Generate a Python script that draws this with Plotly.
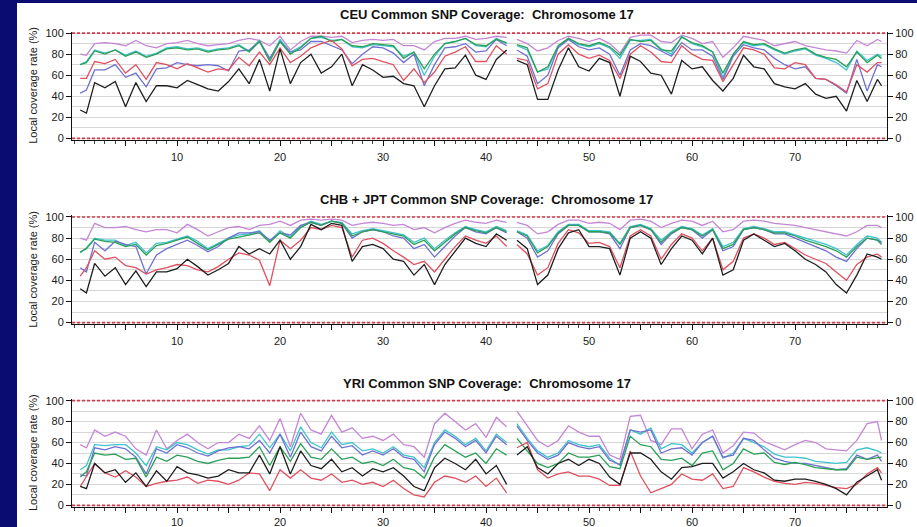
import plotly.graph_objects as go

W, H = 917, 527
ML, MR = 72, 30
PLOT_W = W - ML - MR

# ---------------- data ----------------
# x positions (Mb along chromosome 17); None entry at 42.5 = gap (centromere)
X = [0.6, 1.2] + list(range(2, 43)) + [42.5] + list(range(43, 79)) + [78.4]
N = None

CEU_BLACK = [27, 24, 53, 48, 54, 30, 53, 35, 50, 50,
             48, 55, 51, 47, 45, 54, 66, 52, 75, 45,
             85, 52, 72, 80, 62, 68, 80, 50, 70, 65,
             58, 59, 52, 50, 30, 50, 66, 67, 79, 60,
             56, 75, 84, N, 74, 70, 37, 37, 65, 86,
             68, 64, 76, 72, 40, 78, 73, 62, 60, 42,
             74, 66, 68, 55, 45, 57, 79, 68, 66, 52,
             49, 47, 52, 42, 38, 40, 26, 55, 35, 56,
             50]
CEU_RED = [57, 57, 73, 71, 75, 62, 70, 56, 72, 70,
           66, 71, 67, 63, 66, 65, 77, 69, 82, 70,
           86, 72, 78, 86, 90, 93, 85, 69, 75, 76,
           73, 70, 55, 66, 53, 63, 78, 82, 87, 73,
           73, 88, 80, N, 76, 74, 47, 52, 80, 89,
           80, 76, 79, 74, 57, 80, 88, 82, 73, 72,
           88, 80, 75, 74, 54, 70, 86, 84, 80, 67,
           66, 72, 70, 57, 56, 51, 44, 70, 63, 72,
           72]
CEU_BLUE = [43, 46, 65, 65, 70, 58, 62, 49, 66, 67,
            72, 70, 69, 70, 69, 64, 83, 84, 92, 76,
            92, 82, 84, 92, 92, 88, 84, 71, 80, 87,
            86, 81, 72, 80, 50, 70, 86, 87, 90, 82,
            83, 94, 88, N, 84, 78, 52, 60, 86, 94,
            87, 84, 86, 80, 60, 84, 90, 88, 83, 78,
            91, 84, 84, 78, 56, 78, 89, 86, 84, 76,
            70, 66, 68, 57, 56, 50, 43, 75, 45, 70,
            68]
CEU_GREEN = [70, 72, 83, 80, 84, 78, 82, 77, 80, 85,
             86, 84, 85, 82, 84, 85, 88, 82, 92, 73,
             92, 80, 86, 95, 97, 92, 94, 88, 87, 90,
             89, 88, 76, 82, 66, 80, 90, 92, 95, 89,
             88, 94, 91, N, 89, 86, 63, 68, 88, 95,
             90, 88, 91, 87, 79, 94, 92, 93, 84, 83,
             96, 91, 88, 82, 62, 80, 92, 89, 90, 85,
             81, 84, 86, 80, 77, 75, 68, 82, 72, 79,
             76]
CEU_CYAN = [70, 73, 84, 81, 84, 79, 83, 78, 81, 86,
            87, 85, 86, 83, 85, 86, 89, 83, 93, 75,
            94, 82, 87, 95, 96, 93, 94, 87, 86, 89,
            88, 87, 78, 82, 60, 78, 90, 92, 95, 88,
            87, 95, 90, N, 88, 84, 63, 66, 87, 95,
            89, 87, 90, 86, 76, 93, 93, 94, 85, 80,
            97, 90, 87, 82, 58, 80, 91, 88, 89, 84,
            80, 83, 85, 79, 76, 72, 65, 83, 74, 80,
            78]
CEU_VIOLET = [80, 79, 90, 91, 90, 88, 93, 88, 86, 90,
              91, 93, 90, 88, 89, 90, 93, 95, 93, 88,
              97, 84, 92, 97, 97, 96, 97, 91, 93, 94,
              93, 94, 88, 88, 84, 92, 95, 95, 97, 94,
              95, 97, 96, N, 94, 90, 83, 86, 93, 97,
              95, 92, 95, 90, 81, 96, 98, 98, 92, 91,
              98, 95, 90, 92, 77, 86, 97, 95, 93, 88,
              90, 92, 88, 86, 84, 83, 81, 93, 88, 94,
              92]

CHB_BLACK = [32, 28, 56, 44, 52, 36, 49, 34, 48, 48,
             51, 60, 53, 45, 50, 56, 72, 65, 70, 65,
             78, 60, 72, 93, 88, 94, 92, 58, 72, 74,
             70, 60, 58, 45, 55, 36, 55, 68, 80, 75,
             72, 84, 78, N, 78, 70, 36, 45, 70, 85,
             88, 72, 72, 70, 45, 80, 86, 80, 55, 70,
             82, 78, 65, 80, 45, 50, 78, 84, 78, 72,
             75, 68, 60, 55, 48, 36, 28, 45, 65, 62,
             60]
CHB_RED = [44, 52, 68, 60, 62, 54, 52, 46, 50, 52,
           55, 54, 50, 48, 53, 60, 66, 64, 59, 35,
           78, 70, 78, 90, 88, 92, 90, 62, 78, 80,
           75, 68, 62, 55, 58, 48, 60, 72, 82, 78,
           75, 82, 72, N, 74, 65, 45, 52, 75, 88,
           85, 75, 76, 72, 52, 82, 88, 82, 60, 74,
           84, 80, 68, 80, 50, 58, 80, 84, 80, 74,
           76, 70, 64, 60, 56, 48, 40, 55, 62, 65,
           62]
CHB_BLUE = [52, 48, 76, 68, 77, 74, 72, 46, 64, 70,
            74, 78, 73, 67, 72, 80, 85, 85, 86, 78,
            85, 83, 92, 95, 92, 96, 94, 80, 86, 88,
            86, 82, 80, 70, 74, 62, 72, 82, 90, 86,
            84, 90, 85, N, 86, 80, 62, 68, 84, 92,
            92, 86, 86, 84, 70, 90, 92, 88, 74, 84,
            90, 88, 80, 88, 68, 72, 88, 90, 88, 84,
            84, 80, 76, 72, 68, 62, 58, 70, 80, 78,
            76]
CHB_GREEN = [67, 70, 79, 77, 76, 72, 74, 64, 73, 75,
             78, 81, 75, 69, 74, 79, 81, 83, 85, 76,
             85, 80, 90, 95, 92, 96, 94, 82, 86, 88,
             86, 84, 82, 74, 78, 68, 76, 84, 90, 87,
             85, 90, 86, N, 86, 82, 66, 72, 85, 92,
             92, 86, 86, 85, 74, 90, 92, 88, 76, 85,
             90, 88, 82, 88, 70, 74, 88, 90, 88, 85,
             85, 82, 78, 75, 72, 68, 62, 72, 80, 78,
             74]
CHB_CYAN = [66, 71, 80, 78, 78, 73, 76, 66, 75, 76,
            79, 82, 77, 70, 75, 80, 83, 84, 87, 77,
            87, 81, 91, 96, 93, 96, 95, 84, 87, 89,
            87, 85, 83, 76, 80, 70, 78, 85, 91, 88,
            86, 91, 87, N, 87, 83, 68, 73, 86, 93,
            93, 87, 87, 86, 75, 91, 93, 89, 78, 86,
            91, 89, 83, 89, 72, 76, 89, 91, 89, 86,
            86, 83, 80, 77, 74, 70, 64, 74, 82, 80,
            76]
CHB_VIOLET = [80, 78, 94, 90, 90, 91, 88, 86, 88, 88,
              85, 93, 88, 82, 86, 90, 91, 88, 92, 93,
              96, 92, 97, 98, 97, 98, 97, 92, 94, 95,
              94, 92, 93, 88, 90, 85, 90, 94, 97, 95,
              94, 97, 95, N, 95, 92, 84, 86, 93, 97,
              97, 94, 95, 94, 88, 97, 98, 96, 90, 94,
              97, 96, 92, 96, 86, 88, 96, 97, 96, 94,
              93, 92, 90, 88, 86, 84, 82, 86, 92, 92,
              90]

YRI_BLACK = [18, 16, 40, 31, 34, 22, 31, 18, 33, 23,
             37, 31, 29, 26, 28, 34, 31, 31, 48, 30,
             56, 30, 52, 38, 35, 44, 32, 36, 28, 35,
             32, 36, 28, 18, 14, 36, 45, 40, 34, 44,
             30, 38, 20, N, 48, 56, 36, 30, 40, 44,
             38, 44, 40, 27, 20, 50, 50, 44, 32, 25,
             36, 37, 40, 40, 26, 32, 40, 34, 31, 24,
             23, 25, 25, 23, 20, 16, 10, 22, 28, 34,
             24]
YRI_RED = [18, 28, 40, 31, 27, 33, 27, 18, 21, 23,
           24, 27, 21, 24, 23, 20, 24, 31, 30, 14,
           34, 26, 34, 26, 24, 30, 22, 24, 20, 22,
           18, 24, 16, 10, 8, 22, 28, 26, 22, 28,
           18, 26, 12, N, 55, 60, 34, 26, 30, 32,
           28, 28, 25, 19, 19, 52, 28, 12, 16, 20,
           30, 25, 24, 30, 16, 18, 36, 32, 27, 23,
           21, 20, 22, 21, 19, 17, 16, 20, 30, 36,
           31]
YRI_BLUE = [29, 28, 55, 53, 56, 54, 46, 30, 54, 50,
            58, 55, 50, 47, 52, 55, 56, 54, 62, 50,
            68, 46, 70, 56, 52, 66, 55, 57, 48, 52,
            48, 54, 46, 44, 32, 58, 70, 64, 56, 62,
            50, 66, 58, N, 76, 62, 50, 44, 48, 60,
            56, 54, 56, 43, 39, 72, 70, 72, 50, 54,
            55, 48, 60, 66, 46, 48, 64, 62, 53, 45,
            42, 40, 40, 38, 36, 34, 35, 48, 44, 48,
            42]
YRI_GREEN = [27, 32, 50, 48, 49, 44, 45, 27, 46, 42,
             48, 46, 42, 40, 43, 45, 45, 46, 56, 38,
             56, 42, 59, 46, 44, 54, 44, 46, 40, 42,
             38, 44, 36, 34, 26, 46, 58, 52, 46, 50,
             40, 54, 48, N, 64, 52, 40, 36, 40, 50,
             46, 46, 48, 37, 35, 66, 58, 56, 44, 43,
             45, 38, 50, 52, 34, 40, 54, 49, 50, 41,
             39, 41, 39, 36, 35, 34, 34, 46, 44, 45,
             46]
YRI_CYAN = [34, 38, 58, 57, 58, 58, 50, 38, 56, 53,
            60, 58, 53, 49, 53, 53, 56, 57, 68, 55,
            68, 52, 75, 60, 55, 70, 58, 60, 52, 54,
            50, 56, 48, 46, 36, 60, 72, 66, 58, 64,
            52, 68, 60, N, 78, 64, 52, 46, 50, 62,
            58, 56, 58, 45, 38, 72, 68, 74, 54, 59,
            58, 50, 60, 66, 45, 50, 64, 60, 56, 49,
            46, 46, 45, 42, 41, 40, 41, 53, 55, 52,
            50]
YRI_VIOLET = [58, 55, 72, 66, 70, 66, 54, 48, 72, 54,
              62, 68, 60, 54, 60, 60, 68, 64, 76, 62,
              83, 56, 88, 72, 68, 86, 70, 74, 64, 66,
              62, 68, 58, 56, 46, 78, 88, 80, 72, 78,
              65, 84, 75, N, 90, 76, 62, 56, 62, 76,
              70, 66, 66, 48, 44, 85, 86, 62, 58, 73,
              73, 54, 68, 72, 50, 57, 70, 69, 61, 57,
              53, 58, 62, 60, 54, 53, 52, 62, 78, 80,
              62]

TITLES = ["CEU Common SNP Coverage:\u00a0 Chromosome 17",
          "CHB + JPT Common SNP Coverage:\u00a0 Chromosome 17",
          "YRI Common SNP Coverage:\u00a0 Chromosome 17"]
Y_LABEL = "Local coverage rate (%)"
X_TICK_VALS = [5, 10, 15, 20, 25, 30, 35, 40, 45, 50, 55, 60, 65, 70, 75]
X_TICK_TEXT = ["", "10", "", "20", "", "30", "", "40", "", "50", "", "60", "", "70", ""]
REF_LEVELS = [0, 100]

PANELS = [
    {"violet": CEU_VIOLET, "cyan": CEU_CYAN, "blue": CEU_BLUE, "green": CEU_GREEN, "red": CEU_RED, "black": CEU_BLACK},
    {"violet": CHB_VIOLET, "cyan": CHB_CYAN, "blue": CHB_BLUE, "green": CHB_GREEN, "red": CHB_RED, "black": CHB_BLACK},
    {"violet": YRI_VIOLET, "cyan": YRI_CYAN, "blue": YRI_BLUE, "green": YRI_GREEN, "red": YRI_RED, "black": YRI_BLACK},
]

COLORS = {"violet": "#c586d6", "cyan": "#3fc3cc", "blue": "#6f70d2",
          "green": "#2a9f58", "red": "#e0505f", "black": "#1e1e1e"}
ORDER = ["violet", "cyan", "blue", "green", "red", "black"]

# ---------------- layout geometry (pixels) ----------------
XR = [-0.2, 78.93]
YR = [-1.5, 101.5]
FRAMES = [(31.5, 140.0), (215.4, 324.2), (399.1, 506.9)]
TITLE_Y = [15, 199, 383]
STANDOFF = [2, 2, 0]
NAVY = "#0b0c72"
GRID = "#d6d6d6"
AXC = "#111111"
TXT = "#1a1a1a"
FONT = "Liberation Sans, Arial, sans-serif"


def px_x(px):
    return (px - ML) / PLOT_W


def px_y(py):
    return 1 - py / H


fig = go.Figure()
layout = {}
annotations = []

for i, series in enumerate(PANELS):
    n = i + 1
    xa = "x" if n == 1 else f"x{n}"
    ya = "y" if n == 1 else f"y{n}"
    yr = f"y{n + 3}"
    for name in ORDER:
        fig.add_trace(go.Scatter(x=X, y=series[name], mode="lines",
                                 line=dict(color=COLORS[name], width=1.3),
                                 xaxis=xa, yaxis=ya, hoverinfo="skip",
                                 showlegend=False))
    for lvl in REF_LEVELS:
        fig.add_trace(go.Scatter(x=XR, y=[lvl, lvl], mode="lines",
                                 line=dict(color="#d23c4c", width=1.6, dash="3px,2px"),
                                 xaxis=xa, yaxis=yr, hoverinfo="skip",
                                 showlegend=False))
    top, bot = FRAMES[i]
    dom = [px_y(bot), px_y(top)]
    sfx = "" if n == 1 else str(n)
    layout[f"xaxis{sfx}"] = dict(
        domain=[0, 1], range=XR, anchor=ya, showline=True, linecolor=AXC, linewidth=1,
        ticks="outside", ticklen=5, tickcolor=AXC, tickmode="array",
        tickvals=X_TICK_VALS, ticktext=X_TICK_TEXT, showgrid=False, zeroline=False,
        minor=dict(tickmode="linear", tick0=0, dtick=1, ticks="outside", ticklen=3,
                   tickcolor="#444444", showgrid=False),
        tickfont=dict(family=FONT, size=11, color=TXT), ticklabelstandoff=STANDOFF[i],
        fixedrange=True)
    layout[f"yaxis{sfx}"] = dict(
        domain=dom, range=YR, anchor=xa, showline=True, linecolor=AXC, linewidth=1,
        ticks="outside", ticklen=5, tickcolor=AXC, tickmode="linear", tick0=0, dtick=20,
        showgrid=True, gridcolor=GRID, gridwidth=1, zeroline=False,
        minor=dict(tickmode="linear", tick0=0, dtick=10, showgrid=True, gridcolor=GRID,
                   ticks=""),
        tickfont=dict(family=FONT, size=11, color=TXT), fixedrange=True)
    layout[f"yaxis{n + 3}"] = dict(
        overlaying=ya, side="right", anchor=xa, range=YR, showline=True, linecolor=AXC,
        linewidth=1, ticks="outside", ticklen=5, tickcolor=AXC, tickmode="linear",
        tick0=0, dtick=20, showgrid=False, zeroline=False,
        tickfont=dict(family=FONT, size=11, color=TXT), fixedrange=True)
    annotations.append(dict(text=f"<b>{TITLES[i]}</b>", xref="paper", yref="paper",
                            x=px_x(487), y=px_y(TITLE_Y[i]), xanchor="center",
                            yanchor="middle", showarrow=False,
                            font=dict(family=FONT, size=13, color="#111111")))
    annotations.append(dict(text=Y_LABEL, xref="paper", yref="paper",
                            x=px_x(33), y=px_y((top + bot) / 2), textangle=-90,
                            xanchor="center", yanchor="middle", showarrow=False,
                            font=dict(family=FONT, size=11, color=TXT)))

shapes = [
    dict(type="rect", xref="paper", yref="paper", x0=px_x(0), x1=px_x(17),
         y0=0, y1=1, fillcolor=NAVY, line=dict(width=0), layer="above"),
    dict(type="rect", xref="paper", yref="paper", x0=px_x(0), x1=px_x(W),
         y0=px_y(3), y1=1, fillcolor=NAVY, line=dict(width=0), layer="above"),
]

fig.update_layout(
    width=W, height=H, margin=dict(l=ML, r=MR, t=0, b=0, autoexpand=False),
    paper_bgcolor="white", plot_bgcolor="white", showlegend=False,
    annotations=annotations, shapes=shapes, **layout)

fig.write_html("out.html")
